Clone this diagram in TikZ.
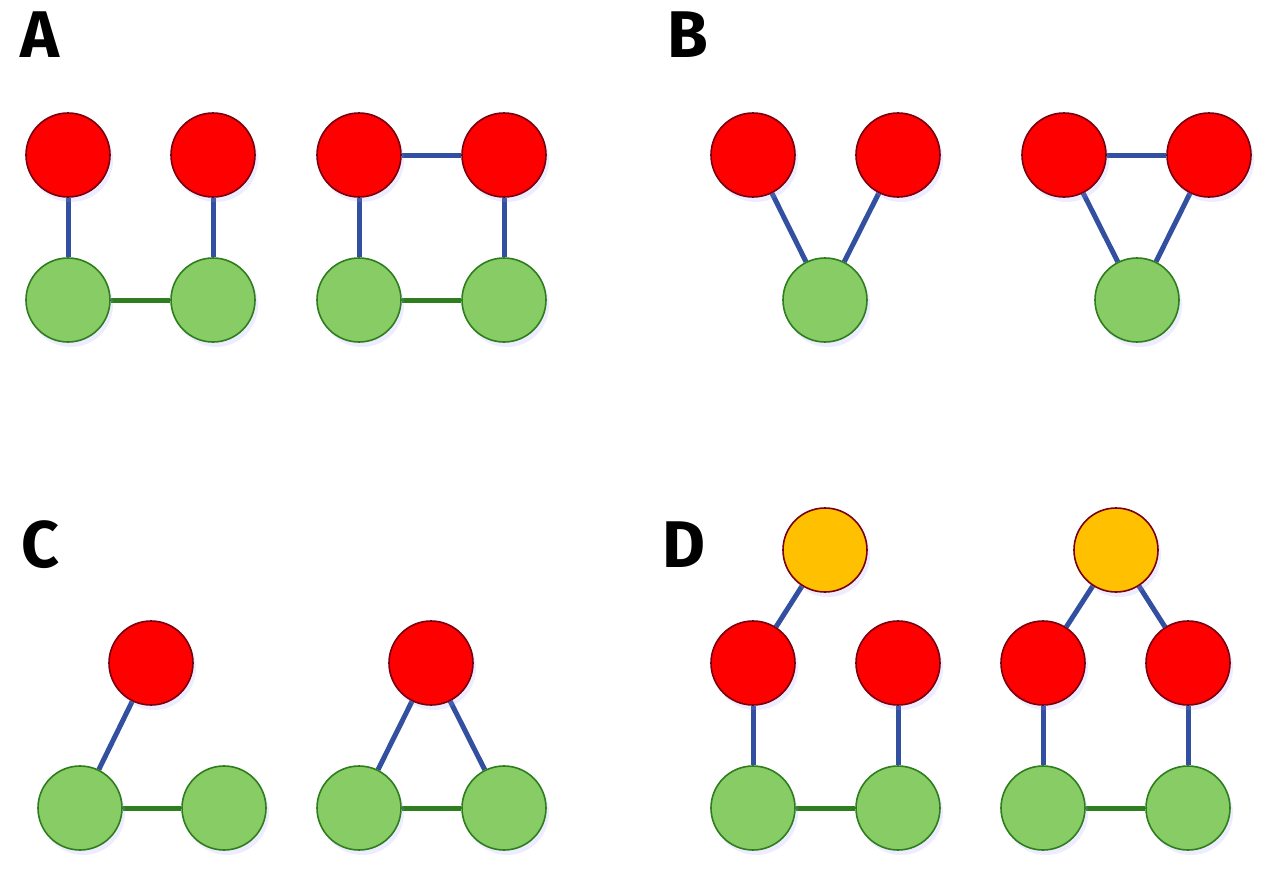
\documentclass[tikz,border=0pt]{standalone}
\usepackage{fontspec}
\setmainfont{Fira Sans}
\usetikzlibrary{shadows,backgrounds}
\definecolor{rf}{HTML}{FF0000}\definecolor{rb}{HTML}{7A0010}
\definecolor{gf}{HTML}{88CC66}\definecolor{gb}{HTML}{2E7D1E}
\definecolor{yf}{HTML}{FFC000}
\definecolor{be}{HTML}{3350A0}\definecolor{ge}{HTML}{2E7D1E}
\begin{document}
\begin{tikzpicture}[x=1pt,y=-1pt,
 nd/.style={circle,minimum size=84pt,inner sep=0pt,line width=1.6pt,
   drop shadow={fill=blue!40,opacity=0.18,shadow xshift=3pt,shadow yshift=-5pt}},
 R/.style={nd,fill=rf,draw=rb}, G/.style={nd,fill=gf,draw=gb}, Y/.style={nd,fill=yf,draw=rb},
 b/.style={draw=be,line width=5pt}, g/.style={draw=ge,line width=5pt},
 lab/.style={font=\fontsize{66}{66}\selectfont\bfseries,inner sep=0pt}]
\useasboundingbox (0,0) rectangle (1280,894);
\node[lab] (LA) at (40,35) {A};
\node[lab] (LB) at (688,35) {B};
\node[lab] (LC) at (40,545) {C};
\node[lab] (LD) at (684,545) {D};
% A
\node[R] (a1) at (68,155) {}; \node[R] (a2) at (213,155) {};
\node[G] (a3) at (68,300) {}; \node[G] (a4) at (213,300) {};
\node[R] (a5) at (359,155) {}; \node[R] (a6) at (504,155) {};
\node[G] (a7) at (359,300) {}; \node[G] (a8) at (504,300) {};
% B
\node[R] (b1) at (753,155) {}; \node[R] (b2) at (898,155) {};
\node[G] (b3) at (825,300) {};
\node[R] (b4) at (1064,155) {}; \node[R] (b5) at (1209,155) {};
\node[G] (b6) at (1137,300) {};
% C
\node[R] (c1) at (151,663) {};
\node[G] (c2) at (80,808) {}; \node[G] (c3) at (224,808) {};
\node[R] (c4) at (431,663) {};
\node[G] (c5) at (359,808) {}; \node[G] (c6) at (504,808) {};
% D
\node[Y] (d0) at (825,550) {};
\node[R] (d1) at (753,663) {}; \node[R] (d2) at (898,663) {};
\node[G] (d3) at (753,808) {}; \node[G] (d4) at (898,808) {};
\node[Y] (e0) at (1116,550) {};
\node[R] (e1) at (1043,663) {}; \node[R] (e2) at (1188,663) {};
\node[G] (e3) at (1043,808) {}; \node[G] (e4) at (1188,808) {};
\begin{scope}[on background layer]
\draw[b] (a1)--(a3); \draw[b] (a2)--(a4); \draw[g] (a3)--(a4);
\draw[b] (a5)--(a7); \draw[b] (a6)--(a8); \draw[g] (a7)--(a8); \draw[b] (a5)--(a6);
\draw[b] (b1)--(b3); \draw[b] (b2)--(b3);
\draw[b] (b4)--(b6); \draw[b] (b5)--(b6); \draw[b] (b4)--(b5);
\draw[b] (c1)--(c2); \draw[g] (c2)--(c3);
\draw[b] (c4)--(c5); \draw[b] (c4)--(c6); \draw[g] (c5)--(c6);
\draw[b] (d0)--(d1); \draw[b] (d1)--(d3); \draw[b] (d2)--(d4); \draw[g] (d3)--(d4);
\draw[b] (e0)--(e1); \draw[b] (e0)--(e2); \draw[b] (e1)--(e3); \draw[b] (e2)--(e4); \draw[g] (e3)--(e4);
\end{scope}
\end{tikzpicture}
\end{document}
